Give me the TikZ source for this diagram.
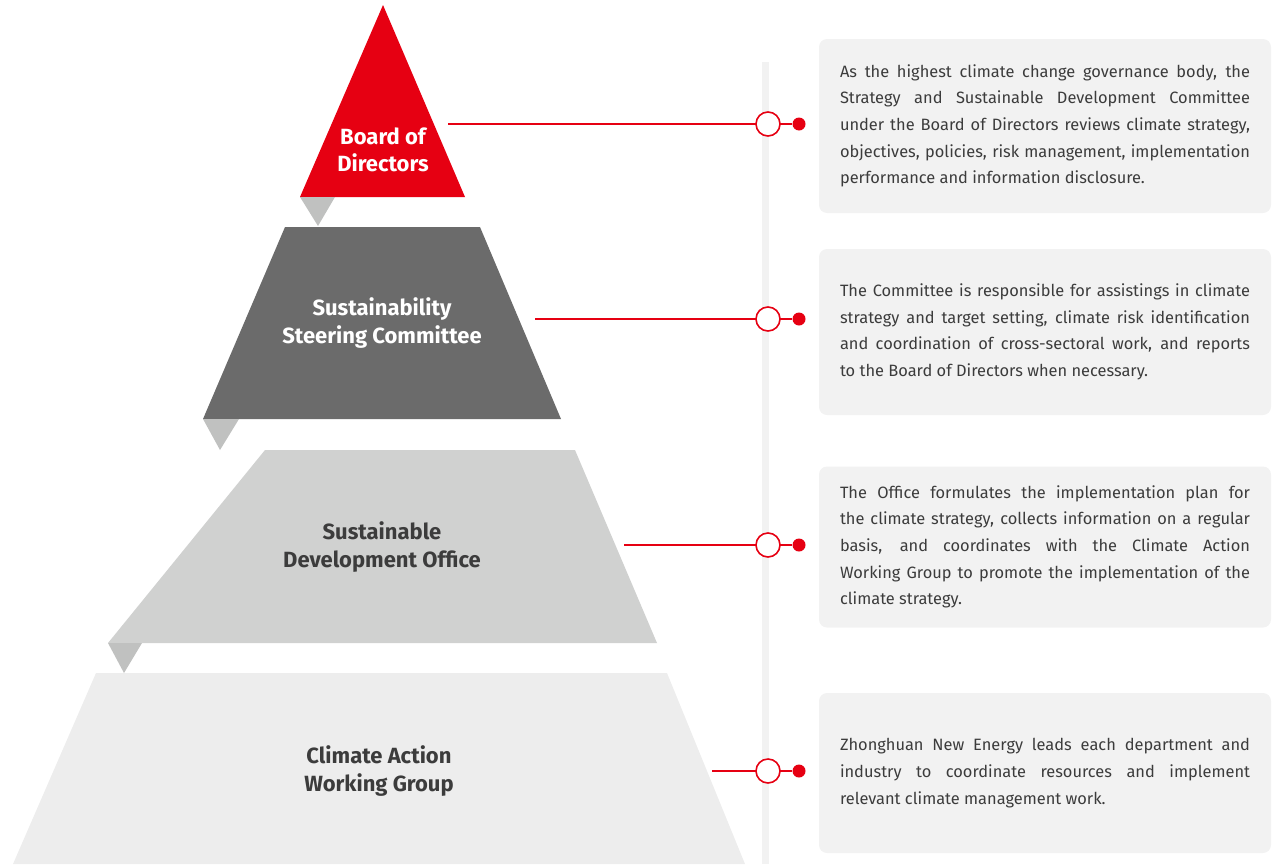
\documentclass[tikz,border=0pt]{standalone}
\usepackage{fontspec}
\setmainfont{Fira Sans}
\usepackage{tikz}
\usetikzlibrary{positioning}
\definecolor{colorRed}{HTML}{E60012}
\definecolor{colorDark}{HTML}{6B6B6B}
\definecolor{colorMid}{HTML}{D0D1D0}
\definecolor{colorLight}{HTML}{EDEDED}
\definecolor{colorTip}{HTML}{C0C1C0}
\definecolor{colorBox}{HTML}{F2F2F2}
\definecolor{colorText}{HTML}{3C3C3C}

\begin{document}
\hyphenpenalty=10000
\exhyphenpenalty=10000
\begin{tikzpicture}[x=0.75pt,y=-0.75pt,
    level/.style={font=\bfseries\fontsize{16.5}{20.5}\selectfont,align=center},
    ring/.style={circle,draw=colorRed,fill=white,line width=1.2pt,minimum size=18pt,inner sep=0pt},
    dot/.style={circle,fill=colorRed,inner sep=0pt,minimum size=9.75pt},
    link/.style={draw=colorRed,line width=1.2pt},
    infobox/.style={fill=colorBox,rounded corners=6pt,text=colorText,inner xsep=15.75pt,
        text width=307.5pt,align=justify,font=\fontsize{12.3}{20}\selectfont}]
        \useasboundingbox (0,0) rectangle (1273,864);
        % pyramid
        \fill[colorLight] (96,673) -- (667,673) -- (745,864) -- (13,864) -- cycle;
        \fill[colorMid] (265,450) -- (575,450) -- (657,643) -- (108,643) -- cycle;
        \fill[colorDark] (285,227) -- (480,227) -- (561,419) -- (203,419) -- cycle;
        \fill[colorRed] (383,5) -- (465,197) -- (300,197) -- cycle;
        \fill[colorTip] (300,197) -- (335,197) -- (318,226) -- cycle;
        \fill[colorTip] (203,419) -- (239,419) -- (220,450) -- cycle;
        \fill[colorTip] (108,643) -- (142,643) -- (124,673) -- cycle;
        \fill[colorBox] (762,62) rectangle (769,864);
        \node[level,text=white] (board) at (383,150) {Board of\\Directors};
        \node[level,text=white] (steering) at (382,323) {Sustainability\\Steering Committee};
        \node[level,text=colorText] (office) at (382,547) {Sustainable\\Development Office};
        \node[level,text=colorText] (group) at (379,771) {Climate Action\\Working Group};
        % boxes
        \node[infobox,minimum height=130.5pt] (boardtext) at (1045,126) {As the highest climate change governance body, the\linebreak Strategy and Sustainable Development Committee\linebreak under the Board of Directors reviews climate strategy,\linebreak objectives, policies, risk management, implementation\linebreak performance and information disclosure.};
        \node[infobox,minimum height=124.5pt] (steeringtext) at (1045,332) {The Committee is responsible for assistings in climate\linebreak strategy and target setting, climate risk identification\linebreak and coordination of cross-sectoral work, and reports\linebreak to the Board of Directors when necessary.};
        \node[infobox,minimum height=120.75pt] (officetext) at (1045,547) {The Office formulates the implementation plan for\linebreak the climate strategy, collects information on a regular\linebreak basis, and coordinates with the Climate Action\linebreak Working Group to promote the implementation of the\linebreak climate strategy.};
        \node[infobox,minimum height=120pt] (grouptext) at (1045,773) {Zhonghuan New Energy leads each department and\linebreak industry to coordinate resources and implement\linebreak relevant climate management work.};
        % connectors
        \coordinate (boardend) at (448,124);
        \coordinate (steeringend) at (535,319);
        \coordinate (officeend) at (624,545);
        \coordinate (groupend) at (712,771);
        \node[dot] (boarddot) at (799,124) {};
        \node[dot] (steeringdot) at (799,319) {};
        \node[dot] (officedot) at (799,545) {};
        \node[dot] (groupdot) at (799,771) {};
        \draw[link] (boardend) -- (boarddot);
        \draw[link] (steeringend) -- (steeringdot);
        \draw[link] (officeend) -- (officedot);
        \draw[link] (groupend) -- (groupdot);
        \node[ring] (boardring) at (768,124) {};
        \node[ring] (steeringring) at (768,319) {};
        \node[ring] (officering) at (768,545) {};
        \node[ring] (groupring) at (768,771) {};
    \end{tikzpicture}
\end{document}
